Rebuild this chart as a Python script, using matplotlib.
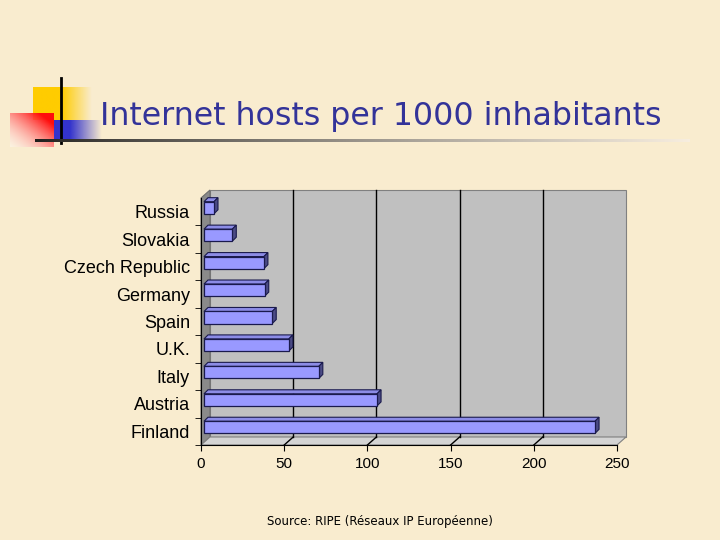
import matplotlib
matplotlib.use('Agg')
import matplotlib.pyplot as plt
import numpy as np
from matplotlib.patches import Polygon
from matplotlib.lines import Line2D

# Data
countries = ['Finland', 'Austria', 'Italy', 'U.K.', 'Spain',
             'Germany', 'Czech Republic', 'Slovakia', 'Russia']
hosts = [235, 104, 69, 51, 41, 36.5, 36, 17, 6]
x_ticks = [0, 50, 100, 150, 200, 250]

bg = '#F9ECCF'
fig = plt.figure(figsize=(7.2, 5.4), dpi=100)
fig.patch.set_facecolor(bg)

W, H = 720.0, 540.0

def fx(px):
    return px / W

def fy(py):
    return 1 - py / H

# decoration in the top left corner
deco = fig.add_axes([0, 0, 1, 1], zorder=0)
deco.axis('off')

def fade_box(rgb, x_l, x_solid, x_r, y_t, y_b):
    # colour box that is solid up to x_solid and fades to nothing at x_r
    n = 100
    u = np.linspace(x_l, x_r, n)
    a = np.clip((x_r - u) / (x_r - x_solid), 0, 1)
    img = np.zeros((2, n, 4))
    img[..., :3] = rgb
    img[..., 3] = a
    deco.imshow(img, extent=(x_l, x_r, y_b, y_t), aspect='auto',
                interpolation='bilinear', zorder=1)

fade_box((1.0, 0.8, 0.0), 33, 62, 92, 87, 120)
fade_box((0.2, 0.2, 0.8), 54, 70, 102, 120, 141)

n = 60
u, v = np.meshgrid(np.linspace(0, 1, n), np.linspace(0, 1, n))
red = np.ones((n, n, 4))
k = np.clip(0.6 * u + 0.6 * (1 - v), 0, 1)   # 1 = full red (top right)
red[..., 1] = 1 - 0.95 * k
red[..., 2] = 1 - 0.95 * k
red[..., 3] = 0.35 + 0.65 * k
deco.imshow(red, extent=(10, 54, 147, 113), aspect='auto',
            interpolation='bilinear', zorder=2)

deco.plot([61, 61], [78, 143], color='black', lw=2, zorder=3)

# underline that fades from dark to light
g = np.linspace(0, 1, 300) ** 0.8
strip = np.zeros((1, 300, 4))
strip[0, :, 0] = 0.12 + 0.85 * g
strip[0, :, 1] = (0.12 + 0.85 * g) * 0.96
strip[0, :, 2] = (0.12 + 0.85 * g) * 0.9
strip[0, :, 3] = 1.0
deco.imshow(strip, extent=(35, 690, 142.5, 139.5), aspect='auto',
            interpolation='bilinear', zorder=3)
deco.set_xlim(0, W)
deco.set_ylim(H, 0)

fig.text(fx(100), fy(116), 'Internet hosts per 1000 inhabitants',
         ha='left', va='center', fontsize=22.8, color='#333399',
         family='DejaVu Sans')
fig.text(fx(380), fy(522), 'Source: RIPE (Réseaux IP Européenne)',
         ha='center', va='center', fontsize=8.5, color='black',
         family='DejaVu Sans')

# chart axes = front plane
left, right, top, bottom = 201, 617, 198, 445
ax = fig.add_axes([fx(left), fy(bottom), (right - left) / W, (bottom - top) / H],
                  zorder=2)
ax.set_xlim(0, 250)
ax.set_ylim(-0.5, len(countries) - 0.5)
ax.patch.set_visible(False)
for s in ['top', 'right']:
    ax.spines[s].set_visible(False)
ax.spines['left'].set_color('black')
ax.spines['bottom'].set_color('black')

dx, dy = 9, 8  # depth of the box in pixels

def disp(x, y):
    return ax.transData.transform((x, y))

def poly(pts, **kw):
    p = Polygon(pts, closed=True, transform=None, **kw)
    fig.add_artist(p)
    return p

x0, y0 = disp(0, -0.5)
x1, y1 = disp(250, len(countries) - 0.5)
# back plane
poly([(x0 + dx, y0 + dy), (x1 + dx, y0 + dy), (x1 + dx, y1 + dy), (x0 + dx, y1 + dy)],
     facecolor='#C0C0C0', edgecolor='#808080', lw=0.8, zorder=1)
# left wall
poly([(x0, y0), (x0 + dx, y0 + dy), (x0 + dx, y1 + dy), (x0, y1)],
     facecolor='#8A8A8A', edgecolor='#6E6E6E', lw=0.8, zorder=1)
# floor
poly([(x0, y0), (x1, y0), (x1 + dx, y0 + dy), (x0 + dx, y0 + dy)],
     facecolor='#D4D4D4', edgecolor='#808080', lw=0.8, zorder=1)

# gridlines on the back plane and floor
for t in x_ticks[1:-1]:
    gx, _ = disp(t, 0)
    fig.add_artist(Line2D([gx + dx, gx + dx], [y0 + dy, y1 + dy], transform=None,
                          color='black', lw=1, zorder=1.1))
    fig.add_artist(Line2D([gx, gx + dx], [y0, y0 + dy], transform=None,
                          color='black', lw=1, zorder=1.1))

# 3D bars
bh = 0.44
bx, by = 3, 4    # front face offset
bd = 4           # bar depth
for i, v in enumerate(hosts):
    ax_, ay_ = disp(0, i - bh / 2)
    bx_, byt = disp(v, i + bh / 2)
    fl, fr = ax_ + bx, bx_ + bx
    fb, ft = ay_ + by, byt + by
    # top face
    poly([(fl, ft), (fr, ft), (fr + bd, ft + bd), (fl + bd, ft + bd)],
         facecolor='#8C8CE6', edgecolor='#1A1A4D', lw=0.8, zorder=3)
    # side face
    poly([(fr, fb), (fr + bd, fb + bd), (fr + bd, ft + bd), (fr, ft)],
         facecolor='#4B4B85', edgecolor='#1A1A4D', lw=0.8, zorder=3)
    # front face
    poly([(fl, fb), (fr, fb), (fr, ft), (fl, ft)],
         facecolor='#9999FF', edgecolor='#1A1A4D', lw=0.9, zorder=3)

ax.set_xticks(x_ticks)
ax.set_xticklabels([str(t) for t in x_ticks], family='Liberation Sans', fontsize=11)
ax.set_yticks(np.arange(len(countries)) - 0.5, minor=True)
ax.set_yticks(np.arange(len(countries)))
ax.set_yticklabels(countries, family='Liberation Sans', fontsize=13)
ax.tick_params(axis='y', which='major', length=0, pad=8)
ax.tick_params(axis='y', which='minor', length=4, direction='out')
ax.tick_params(axis='x', length=4, direction='out', pad=5)

fig.savefig('out.png', dpi=100, facecolor=bg)
